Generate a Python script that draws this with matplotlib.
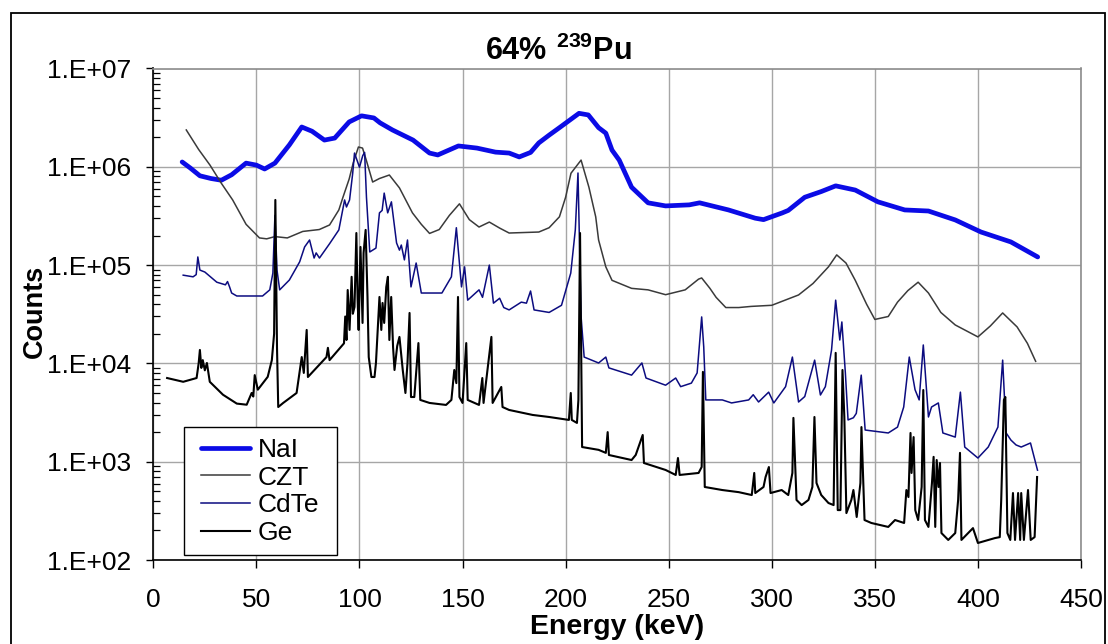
import matplotlib
matplotlib.use("Agg")
import matplotlib.pyplot as plt
from matplotlib.patches import Rectangle
from matplotlib.ticker import FixedLocator, LogLocator, NullFormatter

plt.rcParams['font.family'] = ['Liberation Sans', 'DejaVu Sans']
plt.rcParams['mathtext.fontset'] = 'custom'
plt.rcParams['mathtext.rm'] = 'Liberation Sans'
plt.rcParams['mathtext.bf'] = 'Liberation Sans:bold'

# ---- spectra (energy in keV, counts per channel) ----
nai_energy = [14, 18, 22.6, 28, 33, 38, 45, 50, 54, 59, 66, 72, 77, 83, 88, 95, 101, 107, 110,
              116, 126, 134, 138, 148, 157, 166, 172.6, 177.5, 183, 187, 192, 197, 206.5, 211,
              216, 219.5, 222.5, 226, 232, 240, 248.5, 260, 265, 279, 292, 296, 305, 308, 316,
              324, 331, 340.5, 351.5, 364.5, 376, 389, 401.5, 416, 429]
nai_counts = [1.12e6, 9.7e5, 8.1e5, 7.6e5, 7.3e5, 8.3e5, 1.09e6, 1.04e6, 9.5e5, 1.09e6, 1.67e6,
              2.54e6, 2.3e6, 1.87e6, 1.96e6, 2.86e6, 3.3e6, 3.14e6, 2.8e6, 2.37e6, 1.87e6,
              1.38e6, 1.32e6, 1.63e6, 1.55e6, 1.41e6, 1.38e6, 1.26e6, 1.4e6, 1.75e6, 2.1e6,
              2.5e6, 3.5e6, 3.37e6, 2.5e6, 2.2e6, 1.48e6, 1.17e6, 6.2e5, 4.3e5, 4.0e5, 4.1e5,
              4.3e5, 3.64e5, 3.0e5, 2.9e5, 3.39e5, 3.6e5, 4.9e5, 5.6e5, 6.4e5, 5.8e5, 4.4e5,
              3.64e5, 3.55e5, 2.88e5, 2.17e5, 1.72e5, 1.21e5]

czt_energy = [16, 22, 27.5, 33, 38.5, 45, 51.5, 55, 59, 65, 72.5, 80.5, 85.5, 90, 92, 95, 97,
              99.5, 101.5, 103.3, 106.4, 109.7, 114.5, 119.4, 125.7, 130, 134, 138.7, 143.6,
              148.5, 153.3, 158, 163, 168, 172.6, 187, 192, 197, 200, 202.6, 207.5, 211.3,
              214.6, 216, 219.5, 222.5, 232, 240, 248.5, 258, 264.5, 266, 270, 273, 277.7,
              284, 290, 300, 313, 320, 327.5, 331.5, 336, 340.5, 346, 350, 356.5, 361, 366,
              371, 376, 382, 389, 400, 406, 412, 419, 424, 428]
czt_counts = [2.37e6, 1.5e6, 1.04e6, 6.8e5, 4.6e5, 2.6e5, 1.89e5, 1.85e5, 1.95e5, 1.89e5, 2.2e5,
              2.3e5, 2.56e5, 3.64e5, 4.9e5, 7.5e5, 1.1e6, 1.59e6, 1.55e6, 1.17e6, 7.0e5, 7.6e5,
              8.25e5, 6.1e5, 3.4e5, 2.6e5, 2.1e5, 2.3e5, 3.2e5, 4.2e5, 2.9e5, 2.44e5, 2.74e5,
              2.38e5, 2.12e5, 2.17e5, 2.4e5, 3.1e5, 4.9e5, 8.6e5, 1.17e6, 6.2e5, 3.1e5, 1.8e5,
              9.6e4, 7.0e4, 5.8e4, 5.6e4, 5.0e4, 5.6e4, 7.2e4, 7.4e4, 5.8e4, 4.7e4, 3.7e4,
              3.7e4, 3.8e4, 3.9e4, 4.97e4, 6.5e4, 9.6e4, 1.27e5, 1.05e5, 7.0e4, 4.0e4, 2.8e4,
              3.0e4, 4.2e4, 5.5e4, 6.7e4, 5.2e4, 3.3e4, 2.46e4, 1.86e4, 2.4e4, 3.26e4, 2.35e4,
              1.6e4, 1.05e4]

cdte_energy = [14.5, 19.3, 20.8, 21.6, 22.6, 25, 30.8, 35, 36, 37, 38, 40.5, 53, 56.5, 58, 59,
               60, 61.3, 66, 71, 73.4, 75.8, 78, 79, 80.6, 85.5, 90, 92.8, 93.7, 95.2, 96.7,
               97.6, 100, 101.6, 102.5, 103.4, 105, 108, 109.7, 111, 112, 113.7, 115.5, 118,
               119.4, 120.3, 121.8, 123.3, 125, 127.5, 130, 140, 144.6, 147, 149.5, 151,
               152.5, 158, 159.7, 163, 165, 168, 170, 172.6, 178.5, 181, 183, 184.7, 192, 198,
               202.5, 204.7, 206, 207.5, 209, 216, 219.5, 221, 232, 237, 239, 248.5, 253.4,
               255.8, 261, 263.8, 266, 267, 268, 276, 280.5, 288.8, 291, 293.6, 298.5, 301,
               306.7, 310, 313, 316, 320.8, 323.6, 326, 329, 331, 333, 334, 335.7, 337,
               339.6, 341, 343.4, 345.3, 356.5, 361, 364, 366.7, 369.5, 371.5, 373.5, 376,
               377.5, 380.8, 383, 389, 391.5, 393.6, 400, 405, 409.7, 412, 413.7, 416, 418.5,
               421, 425.5, 428.9]
cdte_counts = [7.9e4, 7.6e4, 8.0e4, 1.21e5, 8.9e4, 8.5e4, 6.7e4, 6.3e4, 6.8e4, 6.0e4, 5.2e4,
               4.85e4, 4.85e4, 5.6e4, 8.3e4, 3.2e5, 8.9e4, 5.6e4, 7.05e4, 1.08e5, 1.53e5,
               1.8e5, 1.18e5, 1.33e5, 1.18e5, 1.65e5, 2.28e5, 4.6e5, 3.9e5, 4.6e5, 8.5e5,
               1.38e6, 9.9e5, 1.3e6, 1.4e6, 4.9e5, 1.36e5, 1.49e5, 3.4e5, 3.6e5, 5.4e5, 3.4e5,
               4.4e5, 1.68e5, 1.42e5, 1.6e5, 1.13e5, 1.8e5, 6.0e4, 1.05e5, 5.2e4, 5.2e4, 7.6e4,
               2.4e5, 6.0e4, 9.6e4, 4.4e4, 5.6e4, 4.7e4, 1.0e5, 4.1e4, 4.6e4, 3.7e4, 3.5e4,
               4.2e4, 4.1e4, 5.45e4, 3.5e4, 3.3e4, 3.9e4, 8.3e4, 2.28e5, 8.65e5, 3.0e4,
               1.16e4, 1.01e4, 1.16e4, 9.0e3, 7.6e3, 1.01e4, 7.1e3, 6.0e3, 7.1e3, 5.8e3, 6.3e3,
               8.0e3, 2.97e4, 1.47e4, 4.25e3, 4.25e3, 3.96e3, 4.25e3, 4.8e3, 4.05e3, 5.1e3,
               3.96e3, 5.8e3, 1.16e4, 4.05e3, 4.6e3, 1.08e4, 4.77e3, 5.8e3, 1.37e4, 4.4e4,
               1.73e4, 2.64e4, 8.0e3, 2.66e3, 2.8e3, 3.1e3, 7.6e3, 2.1e3, 1.96e3, 2.25e3,
               3.6e3, 1.16e4, 5.4e3, 4.25e3, 1.54e4, 2.85e3, 3.6e3, 3.96e3, 1.96e3, 1.78e3,
               5.1e3, 1.41e3, 1.09e3, 1.41e3, 2.25e3, 1.08e4, 1.96e3, 1.66e3, 1.48e3, 1.41e3,
               1.55e3, 8.2e2]

ge_energy = [6.7, 14.5, 21, 22, 22.6, 23.3, 24, 25, 26, 27.4, 33.8, 40.5, 45.3, 47.7, 48.5,
             49.2, 50.7, 55.5, 57.5, 58.6, 59.2, 60, 60.6, 63, 69.5, 72, 73, 74.4, 75, 84,
             84.7, 85.5, 92.5, 93.1, 93.7, 94.3, 95.2, 96.2, 96.8, 97.6, 98.5, 99.1, 99.6,
             100.5, 101.5, 102, 103, 103.9, 104.5, 105.8, 107.3, 108, 109.7, 110.6, 111.2,
             112, 113, 113.8, 114.5, 115.4, 116.3, 117, 118.3, 119.4, 121, 122.3, 123.3,
             124.3, 125, 126.6, 128.6, 129.5, 134, 142, 144.6, 146, 147, 147.8, 148.5, 150,
             151.8, 152.5, 158, 159.6, 160.2, 164, 164.6, 168.8, 169.4, 172.6, 184, 192,
             201.6, 202.5, 203, 205.5, 206.2, 207, 208, 216, 219.5, 220.4, 221, 232, 234,
             237.4, 238, 248.5, 253.4, 254.5, 255.3, 264.5, 266, 266.6, 267.5, 276, 284,
             290.3, 291.5, 292, 296, 297, 298.6, 299.4, 304.8, 308, 310, 310.5, 312, 314.5,
             317.8, 319.7, 320.7, 321.7, 324, 327.5, 330, 331, 332, 333.3, 334.3, 335.2,
             336.2, 338.6, 339.6, 341.2, 343, 343.5, 345, 348.3, 356.5, 359.8, 364.2, 365.3,
             366.3, 367.3, 367.8, 368.8, 369.6, 371, 372.7, 373.5, 374.3, 376, 377.7, 378.5,
             379.3, 380, 380.9, 381.6, 382.3, 385.6, 389, 390.4, 391.3, 392, 395.3, 397.6,
             400, 408.2, 410.6, 411.3, 412.6, 413.3, 414.3, 415.7, 417, 418, 419.5, 420.5,
             421, 422.3, 424.3, 425.6, 427.5, 428.7]
ge_counts = [7.1e3, 6.5e3, 7.1e3, 1.0e4, 1.37e4, 9.0e3, 1.08e4, 8.5e3, 1.01e4, 6.5e3, 4.8e3,
             3.9e3, 3.8e3, 5.0e3, 4.6e3, 7.6e3, 5.4e3, 7.3e3, 1.08e4, 2.0e4, 4.6e5, 1.47e4,
             3.6e3, 3.96e3, 5.0e3, 1.16e4, 8.0e3, 2.19e4, 7.27e3, 1.16e4, 1.44e4, 1.08e4,
             1.6e4, 3.0e4, 1.73e4, 5.58e4, 2.19e4, 7.6e4, 3.2e4, 3.75e4, 2.12e5, 4.5e4,
             2.19e4, 1.53e5, 2.58e4, 1.33e5, 2.28e5, 4.74e4, 1.16e4, 7.27e3, 7.27e3, 1.01e4,
             4.74e4, 2.19e4, 4.12e4, 2.58e4, 5.98e4, 7.6e4, 1.73e4, 4.74e4, 1.47e4, 8.57e3,
             1.5e4, 1.86e4, 8.57e3, 5.0e3, 1.01e4, 3.26e4, 4.55e3, 4.55e3, 1.61e4, 4.25e3,
             3.96e3, 3.78e3, 4.25e3, 8.57e3, 6.3e3, 4.74e4, 4.55e3, 3.96e3, 1.61e4, 4.25e3,
             3.78e3, 7.1e3, 3.96e3, 1.86e4, 3.96e3, 5.76e3, 3.6e3, 3.36e3, 2.99e3, 2.85e3,
             2.66e3, 5.0e3, 2.66e3, 2.48e3, 4.25e3, 2.12e5, 1.41e3, 1.32e3, 1.23e3, 2.0e3,
             1.17e3, 1.04e3, 1.17e3, 1.87e3, 970, 824, 733, 1.09e3, 733, 768, 883, 8.2e3, 553,
             515, 490, 458, 768, 480, 553, 699, 883, 480, 515, 458, 768, 2.79e3, 408, 362,
             408, 553, 2.85e3, 607, 458, 380, 362, 1.28e4, 322, 322, 8.57e3, 2.85e3, 300, 408,
             515, 274, 607, 2.25e3, 255, 238, 217, 255, 238, 515, 437, 1.96e3, 768, 1.78e3,
             322, 255, 553, 5.36e3, 255, 217, 607, 1.12e3, 217, 1.04e3, 553, 970, 188, 160,
             188, 408, 1.23e3, 160, 188, 211, 149, 167, 171, 408, 4.25e3, 4.55e3, 188, 160,
             480, 160, 480, 160, 480, 160, 515, 160, 171, 699]

x_ticks = [0, 50, 100, 150, 200, 250, 300, 350, 400, 450]
y_ticks = [1e2, 1e3, 1e4, 1e5, 1e6, 1e7]
y_tick_labels = ['1.E+02', '1.E+03', '1.E+04', '1.E+05', '1.E+06', '1.E+07']

W, H = 1108, 644
fig = plt.figure(figsize=(W / 100, H / 100), dpi=100)
fig.patch.set_facecolor('white')

ax_left, ax_right, ax_top, ax_bottom = 153.3, 1081.0, 68.5, 560.0
ax_w, ax_h = ax_right - ax_left, ax_bottom - ax_top
ax = fig.add_axes([ax_left / W, 1 - ax_bottom / H, ax_w / W, ax_h / H])

ax.plot(nai_energy, nai_counts, color='#0b0be6', lw=3.4, label='NaI',
        solid_joinstyle='round', solid_capstyle='round', zorder=3)
ax.plot(czt_energy, czt_counts, color='#3a3a3a', lw=1.1, label='CZT', zorder=3)
ax.plot(cdte_energy, cdte_counts, color='#0c0c80', lw=1.1, label='CdTe', zorder=3)
ax.plot(ge_energy, ge_counts, color='black', lw=1.5, label='Ge', zorder=3)

ax.set_yscale('log')
ax.set_xlim(0, 450)
ax.set_ylim(1e2, 1e7)

ax.xaxis.set_major_locator(FixedLocator(x_ticks))
ax.set_xticklabels([str(v) for v in x_ticks])
ax.yaxis.set_major_locator(FixedLocator(y_ticks))
ax.set_yticklabels(y_tick_labels)
ax.yaxis.set_minor_locator(LogLocator(base=10, subs=range(2, 10)))
ax.yaxis.set_minor_formatter(NullFormatter())

ax.tick_params(axis='x', which='major', direction='out', length=6, width=1,
               labelsize=19, pad=14, color='black')
ax.tick_params(axis='y', which='major', direction='out', length=5, width=1,
               labelsize=19, pad=11, color='black')
ax.tick_params(axis='y', which='minor', direction='in', length=5, width=0.9,
               color='black')

ax.set_axisbelow(True)
ax.grid(True, which='major', color='#a6a6a6', lw=1.0)

for side in ('top', 'right'):
    ax.spines[side].set_color('#8c8c8c')
    ax.spines[side].set_linewidth(1.2)
for side in ('left', 'bottom'):
    ax.spines[side].set_color('black')
    ax.spines[side].set_linewidth(1.2)

ax.set_xlabel('Energy (keV)', fontsize=20.5, fontweight='bold', va='center')
ax.xaxis.set_label_coords(0.5, (ax_bottom - 627) / ax_h)
ax.set_ylabel('Counts', fontsize=19.5, fontweight='bold', va='center')
ax.yaxis.set_label_coords((35 - ax_left) / ax_w, (ax_bottom - 311) / ax_h)

fig.text(558 / W, 1 - 59.5 / H, r'$\mathbf{64\%\ ^{239}Pu}$', fontsize=22,
         ha='center', va='baseline')

# legend: entries placed without a frame, box drawn as its own patch
leg = ax.legend(loc='upper left',
                bbox_to_anchor=((201 - ax_left) / ax_w, (ax_bottom - 438) / ax_h),
                fontsize=19, frameon=False, handlelength=1.85, handletextpad=0.3,
                labelspacing=0.14, borderpad=0, borderaxespad=0)
leg.set_zorder(6)
ax.add_patch(Rectangle(((184 - ax_left) / ax_w, (ax_bottom - 555) / ax_h),
                       (337 - 184) / ax_w, (555 - 427) / ax_h, transform=ax.transAxes,
                       facecolor='white', edgecolor='black', lw=1.0, zorder=5))

fig.add_artist(Rectangle((11 / W, -0.05), (1105 - 11) / W, 1 - 13 / H + 0.05,
                         transform=fig.transFigure, fill=False, ec='black', lw=1.3))

fig.savefig('out.png', dpi=100, facecolor='white')
